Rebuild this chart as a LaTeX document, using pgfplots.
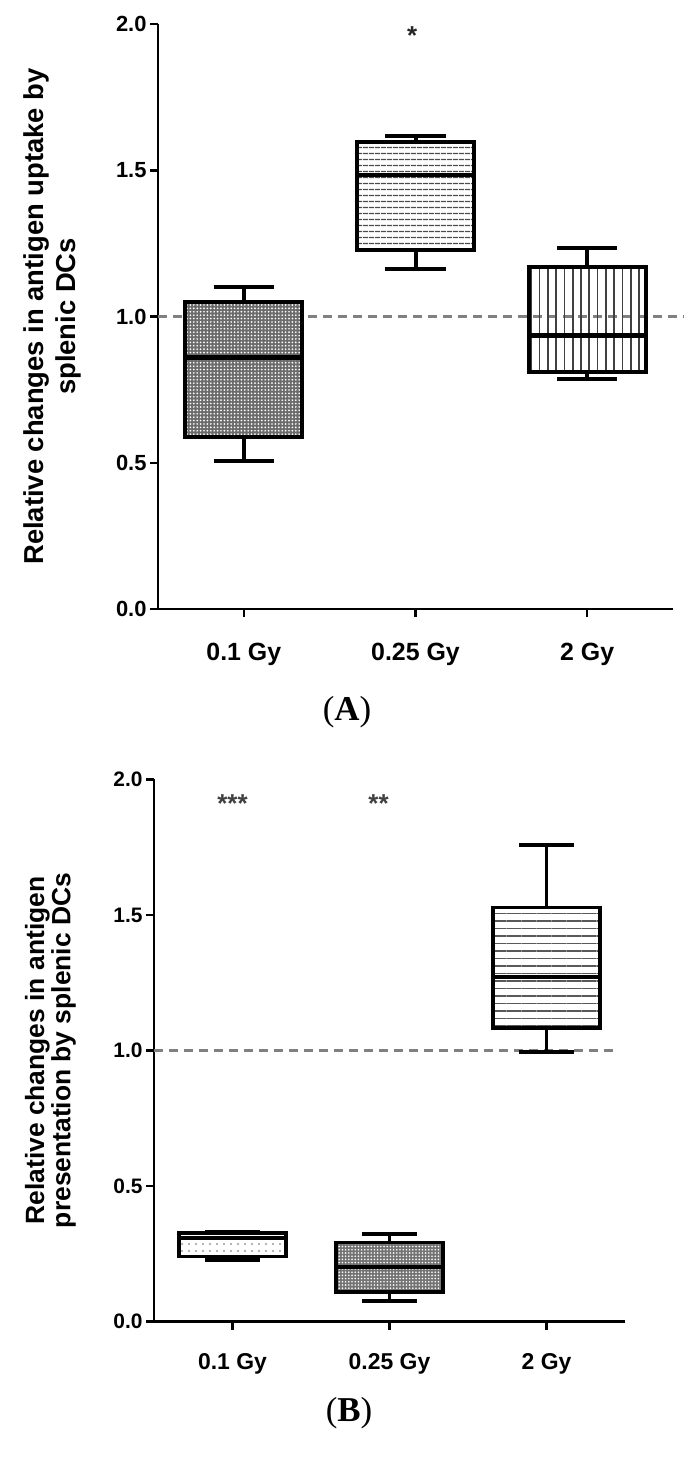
\documentclass[border=0pt]{standalone}
\usepackage{fontspec}
\setmainfont{Liberation Sans}
\newfontfamily\seriffont{Liberation Serif}
\usepackage{pgfplots}
\pgfplotsset{compat=1.18}
\usepgfplotslibrary{statistics}
\usetikzlibrary{patterns.meta}

\pgfplotsset{
  gp/.style={
    scale only axis,
    axis lines*=left,
    axis line style={black, line width=2.5bp},
    xmin=0.5, xmax=3.5, ymin=0, ymax=2,
    xtick={1,2,3}, xticklabels={0.1 Gy,0.25 Gy,2 Gy},
    ytick={0,0.5,1,1.5,2}, yticklabels={0.0,0.5,1.0,1.5,2.0},
    tick align=outside, major tick length=8bp,
    tick style={black, line width=2.5bp},
    yticklabel style={font=\fontsize{22}{26}\selectfont\bfseries},
    xticklabel style={font=\fontsize{25}{29}\selectfont\bfseries, anchor=center, yshift=-37bp},
    ylabel style={align=center, anchor=center, font=\fontsize{27.5}{32}\selectfont\bfseries},
    clip=false,
  },
  bxcommon/.style={black, line width=4bp,
    boxplot/draw direction=y,
    boxplot/box extend=0.68, boxplot/whisker extend=0.35,
    boxplot/every median/.style={line width=4.5bp},
    boxplot/every whisker/.style={line width=4bp}},
}

\begin{document}
\begin{tikzpicture}
\useasboundingbox (0,0) rectangle (687bp,-1461bp);

% ---------------- Panel A ----------------
\begin{axis}[gp, at={(158bp,-609bp)}, anchor=south west, width=515bp, height=585bp,
  ylabel={Relative changes in antigen uptake by\\splenic DCs},
  ylabel style={at={(axis description cs:-0.205,0.5)}}]
\addplot[gray, line width=3bp, dash pattern=on 9bp off 6bp] coordinates {(0.5,1) (3.56,1)};
\addplot[bxcommon,
  boxplot/every box/.style={preaction={fill=black!58}, pattern={Dots[distance=3.4bp, radius=0.95bp]}, pattern color=white},
  boxplot prepared={draw position=1, lower whisker=0.505, lower quartile=0.587, median=0.86, upper quartile=1.05, upper whisker=1.10}]
  coordinates {};
\addplot[bxcommon,
  boxplot/every box/.style={fill=white, pattern={Lines[angle=0, distance=6bp, line width=1.5bp]}, pattern color=black!70},
  boxplot prepared={draw position=2, lower whisker=1.161, lower quartile=1.227, median=1.483, upper quartile=1.598, upper whisker=1.616}]
  coordinates {};
\addplot[bxcommon,
  boxplot/every box/.style={fill=white, pattern={Lines[angle=90, distance=8.3bp, line width=1.7bp]}, pattern color=black!75},
  boxplot prepared={draw position=3, lower whisker=0.785, lower quartile=0.81, median=0.935, upper quartile=1.17, upper whisker=1.235}]
  coordinates {};
\node[font=\fontsize{26}{30}\selectfont\bfseries, text=black!85] at (axis cs:1.98,1.962) {*};
\node[font=\seriffont\fontsize{35}{40}\selectfont] at (axis description cs:0.367,-0.176) {(\textbf{A})};
\end{axis}

% ---------------- Panel B ----------------
\begin{axis}[gp, at={(154bp,-1321.7bp)}, anchor=south west, width=471bp, height=542.4bp,
  yticklabel style={font=\fontsize{21}{25}\selectfont\bfseries},
  xticklabel style={font=\fontsize{23}{27}\selectfont\bfseries, yshift=3bp},
  ylabel={Relative changes in antigen\\presentation by splenic DCs},
  ylabel style={at={(axis description cs:-0.22,0.5)}, font=\fontsize{26.5}{26.5}\selectfont\bfseries}]
\addplot[gray, line width=3bp, dash pattern=on 9bp off 6bp] coordinates {(0.5,1) (3.44,1)};
\addplot[bxcommon, line width=3.5bp,
  boxplot/every median/.style={line width=3.5bp},
  boxplot/every whisker/.style={line width=3.5bp},
  boxplot/every box/.style={fill=white, pattern={Dots[distance=7bp, radius=1.1bp]}, pattern color=black!40},
  boxplot prepared={draw position=1, lower whisker=0.228, lower quartile=0.241, median=0.309, upper quartile=0.327, upper whisker=0.333}]
  coordinates {};
\addplot[bxcommon, line width=3.5bp,
  boxplot/every median/.style={line width=4bp},
  boxplot/every whisker/.style={line width=3.5bp},
  boxplot/every box/.style={preaction={fill=black!55}, pattern={Dots[distance=3.2bp, radius=0.9bp]}, pattern color=white},
  boxplot prepared={draw position=2, lower whisker=0.077, lower quartile=0.109, median=0.201, upper quartile=0.293, upper whisker=0.324}]
  coordinates {};
\addplot[bxcommon, line width=3.5bp,
  boxplot/every median/.style={line width=4bp},
  boxplot/every whisker/.style={line width=3.5bp},
  boxplot/every box/.style={fill=white, pattern={Lines[angle=0, distance=7.5bp, line width=1.4bp]}, pattern color=black!65},
  boxplot prepared={draw position=3, lower whisker=0.994, lower quartile=1.083, median=1.272, upper quartile=1.527, upper whisker=1.757}]
  coordinates {};
\node[font=\fontsize{26}{30}\selectfont\bfseries, text=black!75] at (axis cs:1.0,1.91) {***};
\node[font=\fontsize{26}{30}\selectfont\bfseries, text=black!75] at (axis cs:1.93,1.91) {**};
\node[font=\seriffont\fontsize{35}{40}\selectfont] at (axis description cs:0.414,-0.168) {(\textbf{B})};
\end{axis}
\end{tikzpicture}
\end{document}
